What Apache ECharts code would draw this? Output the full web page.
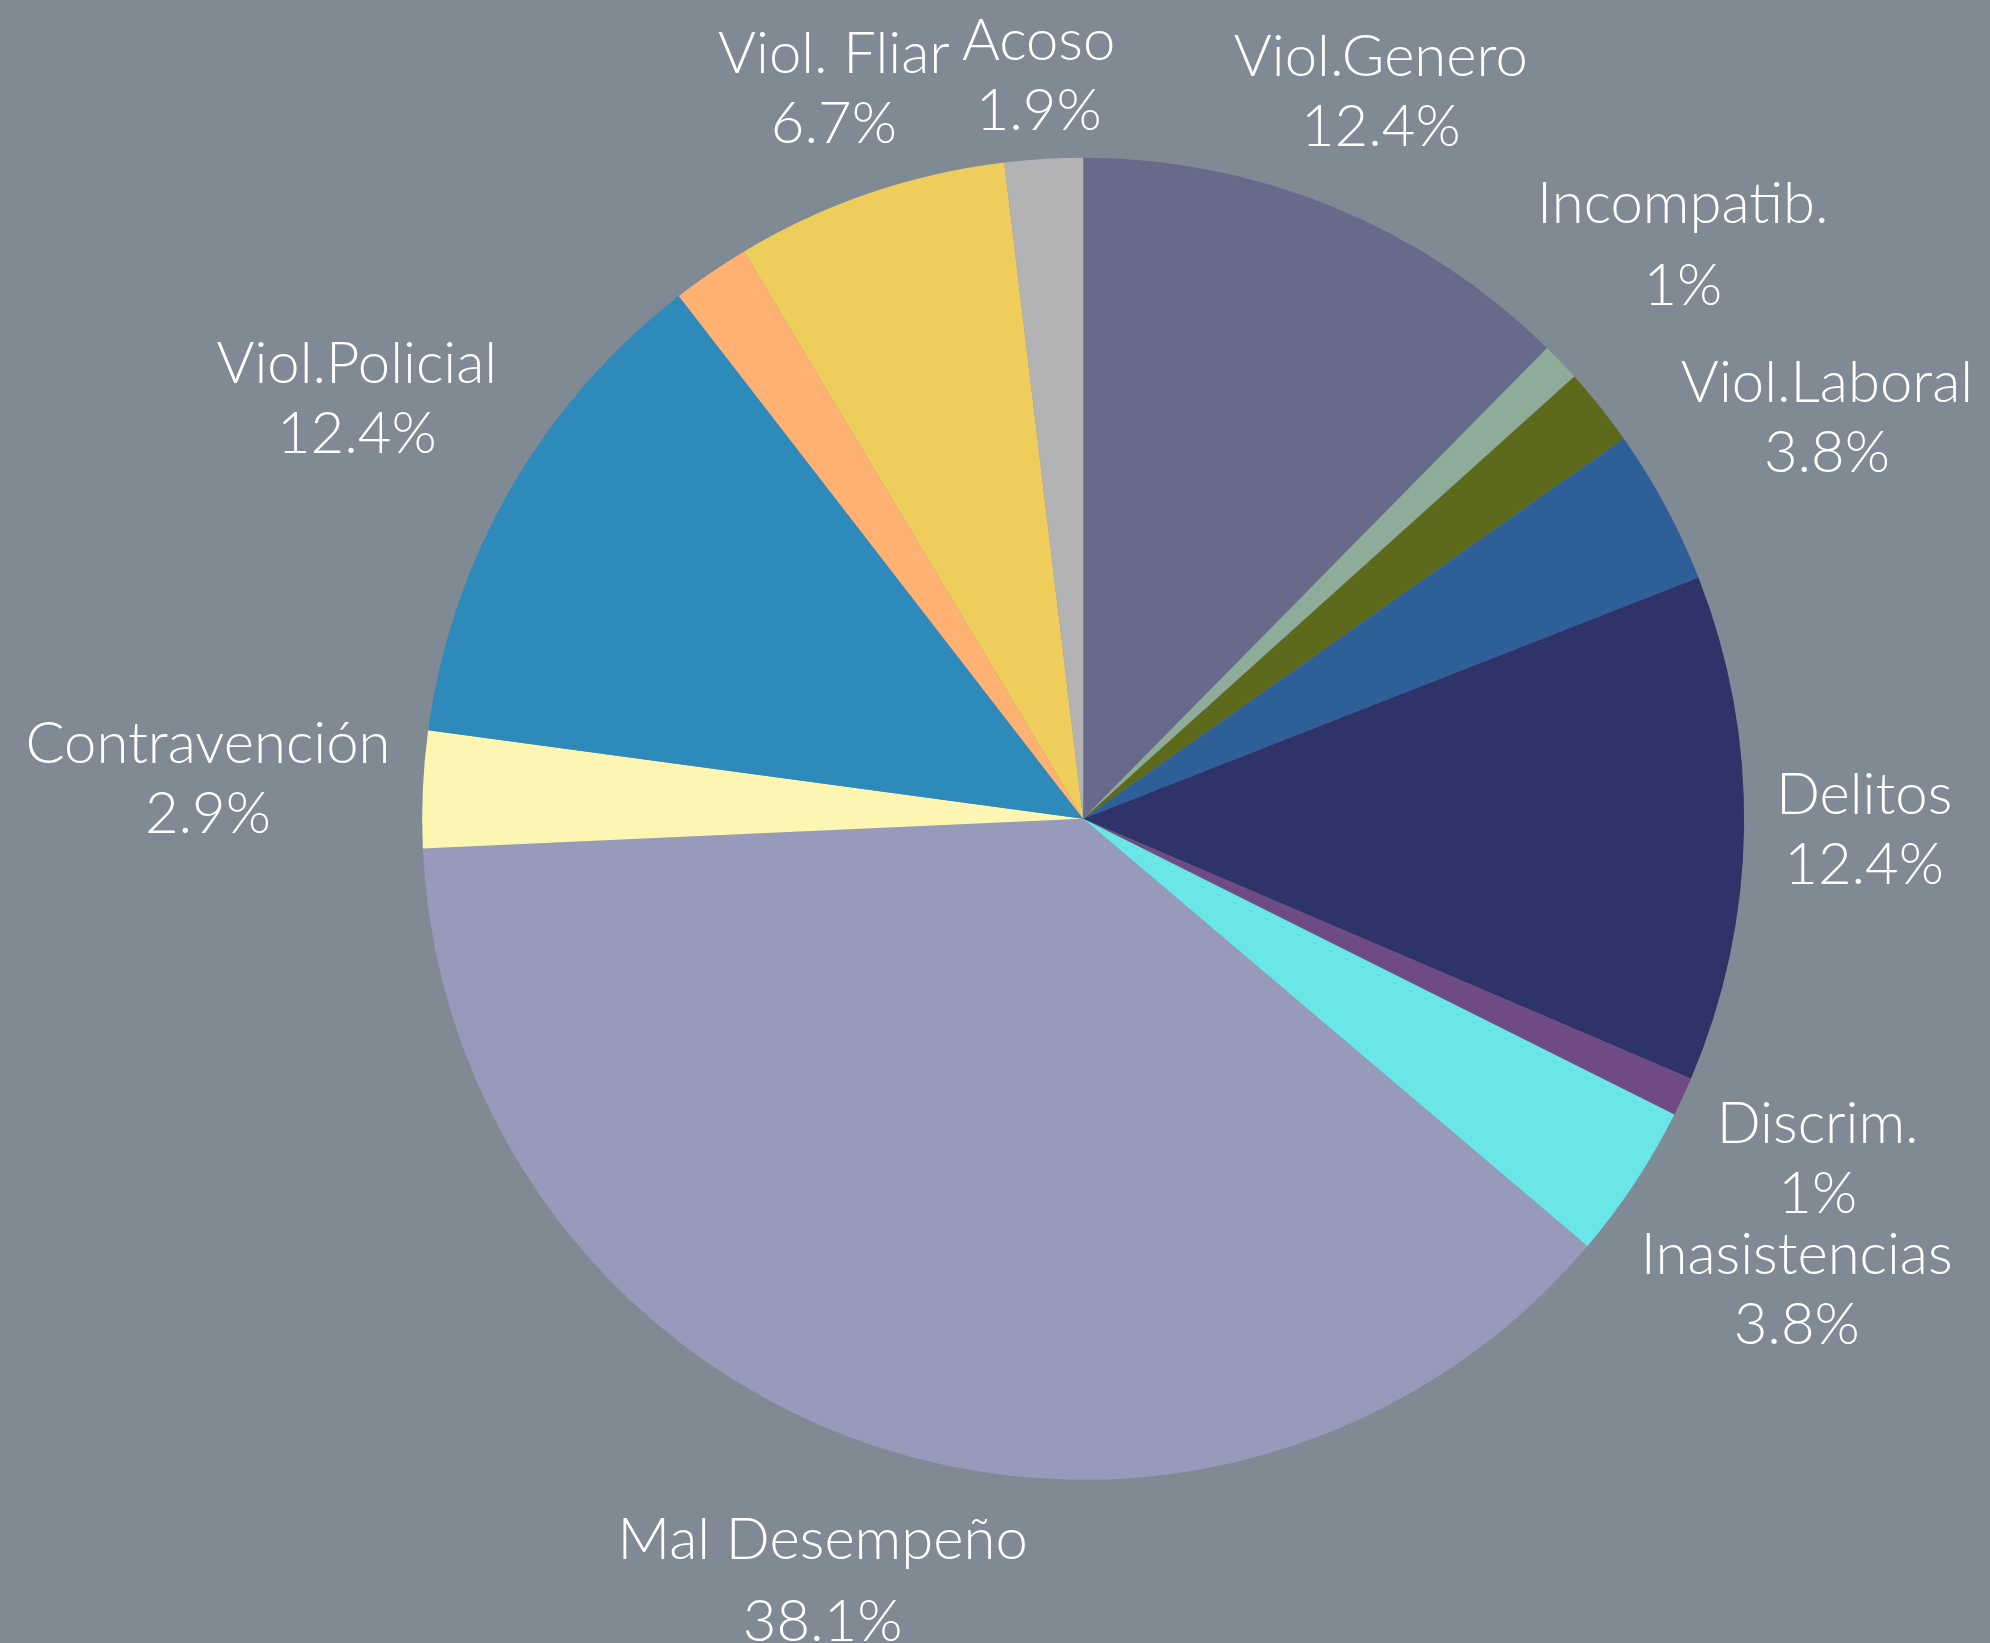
<!DOCTYPE html>
<html><head><meta charset="utf-8">
<script src="https://cdn.jsdelivr.net/npm/echarts@6/dist/echarts.min.js"></script>
<style>html,body{margin:0;padding:0;background:#7f8a94}#chart{width:1990px;height:1643px}</style>
</head><body><div id="chart"></div>
<script>
// Data (clockwise from 12 o'clock)
const categories = ['Viol.Genero', 'Incompatib.', 'Otros A', 'Viol.Laboral', 'Delitos', 'Discrim.', 'Inasistencias', 'Mal Desempeño', 'Contravención', 'Viol.Policial', 'Otros B', 'Viol. Fliar', 'Acoso'];
const values = [13, 1, 2, 4, 13, 1, 4, 40, 3, 13, 2, 7, 2];
const colors = ['#676a8b', '#8fab99', '#5e6a1b', '#2e5f99', '#2e336a', '#6f4a85', '#6ae5e8', '#979aba', '#fdf6b3', '#2e8aba', '#ffb173', '#efcd5c', '#b3b3b5'];
const showLabel = [true, true, false, true, true, true, true, true, true, true, false, true, true];
const wideSpaced = ['Incompatib.', 'Mal Desempeño'];

const total = values.reduce((a, b) => a + b, 0);
const FONT = 58, LH = 70, LH_WIDE = 82;

const chart = echarts.init(document.getElementById('chart'), null, {renderer: 'canvas'});

function pctText(v) {
  return String(Math.round(v / total * 1000) / 10) + '%';
}

const seriesData = categories.map((c, i) => ({
  name: c,
  value: values[i],
  itemStyle: {color: colors[i]},
  label: {show: showLabel[i]}
}));

chart.setOption({
  backgroundColor: '#7f8a94',
  animation: false,
  series: [{
    type: 'pie',
    center: ['54.43%', '49.84%'],
    radius: 661,
    startAngle: 90,
    clockwise: true,
    avoidLabelOverlap: false,
    emphasis: {disabled: true},
    itemStyle: {borderWidth: 0},
    labelLine: {show: false, length: 10, length2: 0},
    label: {
      position: 'outside',
      distanceToLabelLine: 0,
      color: '#ffffff',
      fontFamily: 'Lato',
      fontWeight: 300,
      fontSize: FONT,
      formatter: function (p) {
        const wide = wideSpaced.indexOf(p.name) >= 0;
        const k = wide ? 'w' : 'n';
        return '{' + k + '|' + p.name + '}\n{' + k + '|' + pctText(p.value) + '}';
      },
      rich: {
        n: {color: '#ffffff', fontFamily: 'Lato', fontWeight: 300, fontSize: FONT, lineHeight: LH, align: 'center'},
        w: {color: '#ffffff', fontFamily: 'Lato', fontWeight: 300, fontSize: FONT, lineHeight: LH_WIDE, align: 'center'}
      }
    },
    labelLayout: function (p) {
      const data = chart.getModel().getSeriesByIndex(0).getData();
      const L = data.getItemLayout(p.dataIndex);
      if (!L) return {};
      const mid = (L.startAngle + L.endAngle) / 2;
      const ux = Math.cos(mid), uy = Math.sin(mid);
      const lh = wideSpaced.indexOf(categories[p.dataIndex]) >= 0 ? LH_WIDE : LH;
      const w = p.labelRect.width / 2;
      const hDown = LH / 2 + 0.26 * FONT;   // glyph extent below the block centre
      const hUp = lh - 0.17 * FONT;         // glyph extent above the block centre
      const D = L.r * 1.048;
      let lo = 0, hi = L.r * 3;
      for (let i = 0; i < 60; i++) {
        const t = (lo + hi) / 2;
        const ex = Math.max(Math.abs(t * ux) - w, 0);
        const ey = Math.max(Math.abs(t * uy) - (uy > 0 ? hUp : hDown), 0);
        if (Math.hypot(ex, ey) < D) lo = t; else hi = t;
      }
      return {x: L.cx + lo * ux, y: L.cy + lo * uy, align: 'center', verticalAlign: 'middle'};
    },
    data: seriesData
  }]
});
</script>
</body></html>
